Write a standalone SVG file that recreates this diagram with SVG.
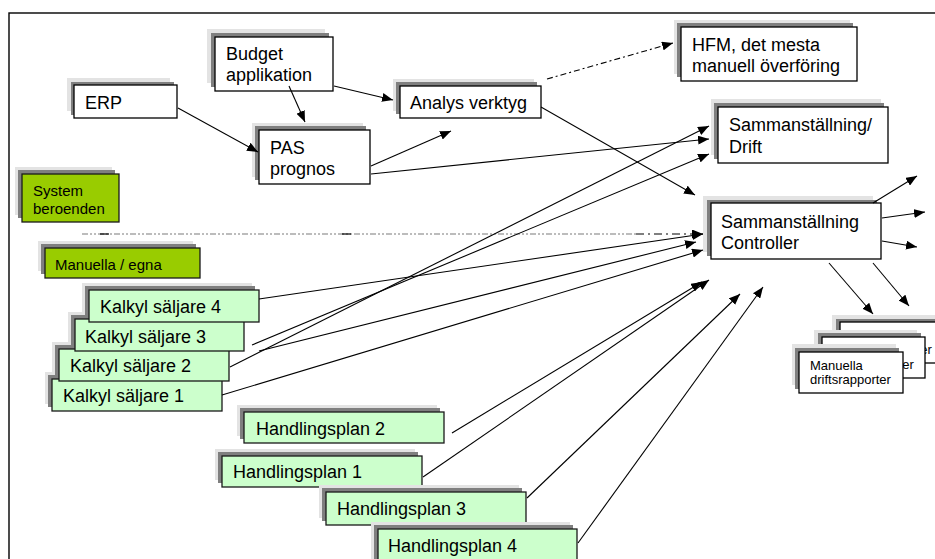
<svg xmlns="http://www.w3.org/2000/svg" width="935" height="559" viewBox="0 0 935 559">
  <style>
    text { font-family: "Liberation Sans", Arial, sans-serif; fill: #000; }
    .t18 { font-size: 18px; }
    .t15 { font-size: 15px; }
    .t13 { font-size: 13px; }
    .sh1 { fill: #e3e3e3; }
    .sh2 { fill: #7f7f7f; }
    .box { fill: #ffffff; stroke: #000; stroke-width: 1.3; }
    .grn { fill: #99cc00; stroke: #1a1a1a; stroke-width: 1.3; }
    .lgr { fill: #ccffcc; stroke: #1a1a1a; stroke-width: 1.3; }
    .ln { stroke: #000; stroke-width: 1.1; fill: none; }
    .arr { marker-end: url(#head); }
    .dd { stroke-dasharray: 6 3 2 3; }
  </style>
  <defs>
    <marker id="head" markerUnits="userSpaceOnUse" markerWidth="11" markerHeight="9" viewBox="0 0 11 9" refX="11" refY="4.5" orient="auto">
      <path d="M0,0 L11,4.5 L0,9 Z" fill="#000"/>
    </marker>
  </defs>

  <!-- page background and frame -->
  <rect x="0" y="0" width="935" height="559" fill="#ffffff"/>
  <rect x="9" y="13" width="1000" height="600" fill="none" stroke="#000" stroke-width="1.4"/>

  <!-- top row: systems -->
  <g id="budget">
    <rect class="sh1" x="207" y="29" width="118" height="54"/>
    <rect class="sh2" x="211" y="33" width="118" height="54"/>
    <rect class="box" x="215" y="37" width="118" height="54"/>
    <text class="t18" x="226" y="60">Budget</text>
    <text class="t18" x="226" y="81">applikation</text>
  </g>
  <g id="erp">
    <rect class="sh1" x="67" y="78" width="103" height="33"/>
    <rect class="sh2" x="71" y="82" width="103" height="33"/>
    <rect class="box" x="74" y="85" width="103" height="33"/>
    <text class="t18" x="85" y="109">ERP</text>
  </g>
  <g id="pas">
    <rect class="sh1" x="252" y="123" width="111" height="54"/>
    <rect class="sh2" x="255" y="126" width="111" height="54"/>
    <rect class="box" x="259" y="130" width="111" height="54"/>
    <text class="t18" x="270" y="154">PAS</text>
    <text class="t18" x="270" y="175">prognos</text>
  </g>
  <g id="analys">
    <rect class="sh1" x="393" y="79" width="141" height="32"/>
    <rect class="sh2" x="396" y="82" width="141" height="32"/>
    <rect class="box" x="400" y="86" width="141" height="32"/>
    <text class="t18" x="410" y="109">Analys verktyg</text>
  </g>
  <g id="hfm">
    <rect class="sh1" x="674" y="20" width="176" height="54"/>
    <rect class="sh2" x="677" y="23" width="176" height="54"/>
    <rect class="box" x="681" y="27" width="176" height="54"/>
    <text class="t18" x="692" y="51">HFM, det mesta</text>
    <text class="t18" x="692" y="72">manuell överföring</text>
  </g>
  <g id="drift">
    <rect class="sh1" x="711" y="99" width="170" height="56"/>
    <rect class="sh2" x="714" y="103" width="170" height="56"/>
    <rect class="box" x="718" y="107" width="170" height="56"/>
    <text class="t18" x="729" y="131">Sammanställning/</text>
    <text class="t18" x="729" y="153">Drift</text>
  </g>
  <g id="controller">
    <rect class="sh1" x="703" y="196" width="170" height="56"/>
    <rect class="sh2" x="707" y="200" width="170" height="56"/>
    <rect class="box" x="711" y="203" width="170" height="56"/>
    <text class="t18" x="721" y="228">Sammanställning</text>
    <text class="t18" x="721" y="249">Controller</text>
  </g>

  <!-- legend -->
  <g id="legend-system">
    <rect class="sh1" x="15" y="167" width="97" height="48"/>
    <rect class="sh2" x="18" y="170" width="97" height="48"/>
    <rect class="grn" x="22" y="174" width="97" height="48"/>
    <text class="t15" x="33" y="196">System</text>
    <text class="t15" x="33" y="214">beroenden</text>
  </g>
  <g id="legend-manual">
    <rect class="sh1" x="38" y="241" width="155" height="30"/>
    <rect class="sh2" x="41" y="244" width="155" height="30"/>
    <rect class="grn" x="45" y="248" width="155" height="30"/>
    <text class="t15" x="55" y="270">Manuella / egna</text>
  </g>

  <!-- seller calculations (stacked) -->
  <g id="kalkyl1">
    <rect class="sh1" x="45" y="372" width="170" height="32"/>
    <rect class="sh2" x="48" y="375" width="170" height="32"/>
    <rect class="lgr" x="52" y="379" width="170" height="32"/>
    <text class="t18" x="63" y="402">Kalkyl säljare 1</text>
  </g>
  <g id="kalkyl2">
    <rect class="sh1" x="52" y="342" width="170" height="32"/>
    <rect class="sh2" x="55" y="345" width="170" height="32"/>
    <rect class="lgr" x="59" y="349" width="170" height="32"/>
    <text class="t18" x="70" y="372">Kalkyl säljare 2</text>
  </g>
  <g id="kalkyl3">
    <rect class="sh1" x="68" y="312" width="169" height="32"/>
    <rect class="sh2" x="71" y="315" width="169" height="32"/>
    <rect class="lgr" x="75" y="319" width="169" height="32"/>
    <text class="t18" x="85" y="343">Kalkyl säljare 3</text>
  </g>
  <g id="kalkyl4">
    <rect class="sh1" x="82" y="283" width="170" height="32"/>
    <rect class="sh2" x="85" y="286" width="170" height="32"/>
    <rect class="lgr" x="89" y="290" width="170" height="32"/>
    <text class="t18" x="100" y="313">Kalkyl säljare 4</text>
  </g>

  <!-- action plans -->
  <g id="plan2">
    <rect class="sh1" x="237" y="405" width="200" height="31"/>
    <rect class="sh2" x="240" y="408" width="200" height="31"/>
    <rect class="lgr" x="244" y="412" width="200" height="31"/>
    <text class="t18" x="256" y="435">Handlingsplan 2</text>
  </g>
  <g id="plan1">
    <rect class="sh1" x="215" y="449" width="200" height="31"/>
    <rect class="sh2" x="218" y="452" width="200" height="31"/>
    <rect class="lgr" x="222" y="456" width="200" height="31"/>
    <text class="t18" x="233" y="478">Handlingsplan 1</text>
  </g>
  <g id="plan3">
    <rect class="sh1" x="319" y="485" width="200" height="33"/>
    <rect class="sh2" x="322" y="488" width="200" height="33"/>
    <rect class="lgr" x="326" y="492" width="200" height="33"/>
    <text class="t18" x="337" y="515">Handlingsplan 3</text>
  </g>
  <g id="plan4">
    <rect class="sh1" x="371" y="522" width="199" height="40"/>
    <rect class="sh2" x="374" y="525" width="199" height="40"/>
    <rect class="lgr" x="378" y="529" width="199" height="40"/>
    <text class="t18" x="388" y="552">Handlingsplan 4</text>
  </g>

  <!-- manual operating reports (stacked) -->
  <g id="report3">
    <rect class="sh1" x="832" y="315" width="110" height="41"/>
    <rect class="sh2" x="836" y="319" width="110" height="41"/>
    <rect class="box" x="840" y="322" width="110" height="41"/>
    <text class="t13" x="851" y="340">Manuella</text>
    <text class="t13" x="851" y="354">driftsrapporter</text>
  </g>
  <g id="report2">
    <rect class="sh1" x="814" y="330" width="103" height="41"/>
    <rect class="sh2" x="818" y="333" width="103" height="41"/>
    <rect class="box" x="822" y="337" width="103" height="41"/>
    <text class="t13" x="833" y="355">Manuella</text>
    <text class="t13" x="833" y="369">driftsrapporter</text>
  </g>
  <g id="report1">
    <rect class="sh1" x="792" y="344" width="104" height="41"/>
    <rect class="sh2" x="795" y="348" width="104" height="41"/>
    <rect class="box" x="799" y="352" width="104" height="41"/>
    <text class="t13" x="810" y="370">Manuella</text>
    <text class="t13" x="810" y="384">driftsrapporter</text>
  </g>

  <!-- connectors -->
  <g id="connectors">
    <!-- divider between system and manual sources -->
    <line x1="82" y1="234" x2="636" y2="234" stroke="#a6a6a6" stroke-width="1.5" stroke-dasharray="6 2 2 2 2 2"/>
    <line x1="100" y1="234" x2="109" y2="234" stroke="#000" stroke-width="1.2"/>
    <line x1="342" y1="234" x2="351" y2="234" stroke="#000" stroke-width="1.2"/>
    <line class="ln arr" x1="636" y1="234" x2="703" y2="234" stroke-dasharray="8 4 2 4"/>

    <line class="ln arr" x1="178" y1="108" x2="258" y2="152"/>
    <line class="ln arr" x1="289" y1="86" x2="305" y2="122"/>
    <line class="ln arr" x1="334" y1="86" x2="393" y2="100"/>
    <line class="ln arr" x1="371" y1="166" x2="451" y2="131"/>
    <line class="ln arr" x1="371" y1="174" x2="709" y2="139"/>
    <line class="ln arr dd" x1="547" y1="79" x2="673" y2="43"/>
    <line class="ln arr" x1="541" y1="107" x2="695" y2="195"/>

    <line class="ln arr" x1="230" y1="367" x2="709" y2="126"/>
    <line class="ln arr" x1="252" y1="345" x2="709" y2="154"/>
    <line class="ln arr" x1="259" y1="351" x2="696" y2="242"/>
    <line class="ln arr" x1="259" y1="299" x2="703" y2="234"/>
    <line class="ln arr" x1="222" y1="395" x2="703" y2="250"/>

    <line class="ln arr" x1="452" y1="433" x2="702" y2="282"/>
    <line class="ln arr" x1="423" y1="477" x2="709" y2="280"/>
    <line class="ln arr" x1="527" y1="498" x2="740" y2="294"/>
    <line class="ln arr" x1="578" y1="543" x2="763" y2="287"/>

    <line class="ln arr" x1="873" y1="203" x2="917" y2="176"/>
    <line class="ln arr" x1="882" y1="218" x2="925" y2="212"/>
    <line class="ln arr" x1="882" y1="241" x2="917" y2="247"/>
    <line class="ln arr" x1="873" y1="263" x2="909" y2="306"/>
    <line class="ln arr" x1="829" y1="263" x2="873" y2="314"/>
  </g>
</svg>
